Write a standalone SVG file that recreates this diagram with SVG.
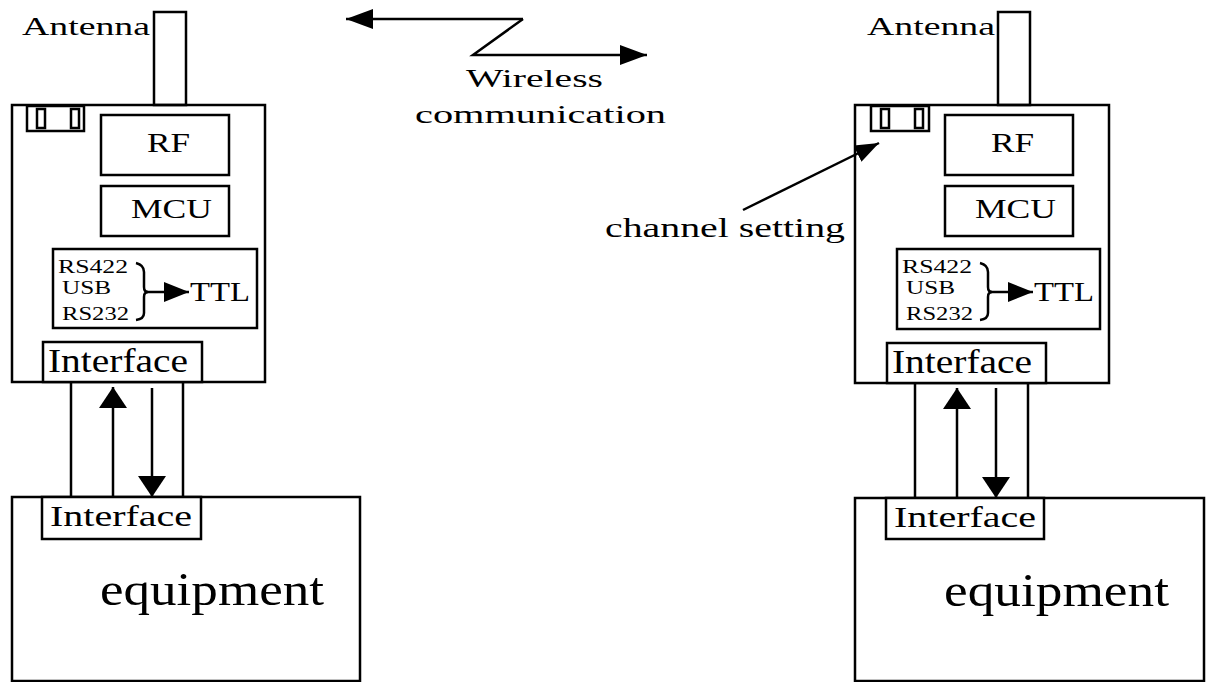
<svg xmlns="http://www.w3.org/2000/svg" width="1210" height="682" viewBox="0 0 1210 682">
<style>
.b{fill:none;stroke:#000;stroke-width:2.5}
.w{fill:#fff;stroke:#000;stroke-width:2.5}
.l{fill:none;stroke:#000;stroke-width:2.5}
.t{font-family:"Liberation Serif","Times New Roman",serif;fill:#000}
</style>
<defs>
<marker id="hBig" markerUnits="userSpaceOnUse" markerWidth="22" markerHeight="28" refX="21" refY="14" orient="auto"><path d="M0,0 L21,14 L0,28 z" fill="#000"/></marker>
<marker id="hW" markerUnits="userSpaceOnUse" markerWidth="28" markerHeight="20" refX="27" refY="10" orient="auto"><path d="M0,0 L27,10 L0,20 z" fill="#000"/></marker>
<marker id="hT" markerUnits="userSpaceOnUse" markerWidth="26" markerHeight="20" refX="25" refY="10" orient="auto"><path d="M0,0 L25,10 L0,20 z" fill="#000"/></marker>
<marker id="hC" markerUnits="userSpaceOnUse" markerWidth="25" markerHeight="18" refX="24" refY="9" orient="auto"><path d="M0,0 L24,9 L0,18 z" fill="#000"/></marker>
</defs>
<rect width="1210" height="682" fill="#fff"/>

<g id="module-left">
<text class="t" x="22" y="35" font-size="25" textLength="128" lengthAdjust="spacingAndGlyphs">Antenna</text>
<rect class="b" x="154" y="12" width="32" height="93"/>
<rect class="b" x="12" y="105" width="253" height="277"/>
<rect class="b" x="27" y="106" width="57" height="25"/>
<rect class="b" x="37" y="109" width="8" height="19"/>
<rect class="b" x="71" y="109" width="8" height="19"/>
<rect class="b" x="101" y="115" width="128" height="60"/>
<text class="t" x="147" y="152" font-size="28" textLength="43" lengthAdjust="spacingAndGlyphs">RF</text>
<rect class="b" x="101" y="186" width="128" height="50"/>
<text class="t" x="131" y="218" font-size="27" textLength="81" lengthAdjust="spacingAndGlyphs">MCU</text>
<rect class="b" x="53" y="249" width="204" height="79"/>
<text class="t" x="58" y="273" font-size="18" textLength="70" lengthAdjust="spacingAndGlyphs">RS422</text>
<text class="t" x="62" y="294" font-size="18" textLength="49" lengthAdjust="spacingAndGlyphs">USB</text>
<text class="t" x="62" y="320" font-size="18" textLength="67" lengthAdjust="spacingAndGlyphs">RS232</text>
<path class="l" d="M136,263 Q144,265 144,272 L144,287 Q144,292 148,292 Q144,292 144,297 L144,313 Q144,319 136,320"/>
<line class="l" x1="145" y1="292" x2="189" y2="292" marker-end="url(#hT)"/>
<text class="t" x="190" y="301" font-size="28" textLength="60" lengthAdjust="spacingAndGlyphs">TTL</text>
<rect class="w" x="43" y="342" width="159" height="40"/>
<text class="t" x="48" y="372" font-size="33" textLength="140" lengthAdjust="spacingAndGlyphs">Interface</text>
</g>

<g id="equipment-left">
<rect class="b" x="12" y="497" width="348" height="184"/>
<rect class="w" x="42" y="497" width="159" height="42"/>
<text class="t" x="50" y="526" font-size="30" textLength="142" lengthAdjust="spacingAndGlyphs">Interface</text>
<text class="t" x="100" y="605" font-size="46" textLength="224" lengthAdjust="spacingAndGlyphs">equipment</text>
</g>

<g id="module-right" transform="translate(844,0)">
<text class="t" x="23" y="35" font-size="25" textLength="128" lengthAdjust="spacingAndGlyphs">Antenna</text>
<rect class="b" x="154" y="12" width="32" height="93"/>
<rect class="b" x="11" y="105" width="254" height="278"/>
<rect class="b" x="27" y="106" width="58" height="25"/>
<rect class="b" x="37" y="109" width="8" height="19"/>
<rect class="b" x="71" y="109" width="8" height="19"/>
<rect class="b" x="101" y="115" width="128" height="60"/>
<text class="t" x="147" y="152" font-size="28" textLength="43" lengthAdjust="spacingAndGlyphs">RF</text>
<rect class="b" x="101" y="186" width="128" height="50"/>
<text class="t" x="131" y="218" font-size="27" textLength="81" lengthAdjust="spacingAndGlyphs">MCU</text>
<rect class="b" x="53" y="249" width="203" height="80"/>
<text class="t" x="58" y="273" font-size="18" textLength="70" lengthAdjust="spacingAndGlyphs">RS422</text>
<text class="t" x="62" y="294" font-size="18" textLength="49" lengthAdjust="spacingAndGlyphs">USB</text>
<text class="t" x="62" y="320" font-size="18" textLength="67" lengthAdjust="spacingAndGlyphs">RS232</text>
<path class="l" d="M136,263 Q144,265 144,272 L144,287 Q144,292 148,292 Q144,292 144,297 L144,313 Q144,319 136,320"/>
<line class="l" x1="145" y1="292" x2="189" y2="292" marker-end="url(#hT)"/>
<text class="t" x="190" y="301" font-size="28" textLength="60" lengthAdjust="spacingAndGlyphs">TTL</text>
<rect class="w" x="43" y="343" width="159" height="40"/>
<text class="t" x="48" y="373" font-size="33" textLength="140" lengthAdjust="spacingAndGlyphs">Interface</text>
</g>

<g id="equipment-right" transform="translate(844,0)">
<rect class="b" x="11" y="498" width="349" height="183"/>
<rect class="w" x="42" y="498" width="158" height="41"/>
<text class="t" x="50" y="527" font-size="30" textLength="142" lengthAdjust="spacingAndGlyphs">Interface</text>
<text class="t" x="100" y="606" font-size="46" textLength="225" lengthAdjust="spacingAndGlyphs">equipment</text>
</g>

<g id="wireless-label">
<text class="t" x="466" y="87" font-size="26" textLength="137" lengthAdjust="spacingAndGlyphs">Wireless</text>
<text class="t" x="415" y="123" font-size="26" textLength="251" lengthAdjust="spacingAndGlyphs">communication</text>
</g>

<g id="channel-label">
<text class="t" x="605" y="237" font-size="27" textLength="240" lengthAdjust="spacingAndGlyphs">channel setting</text>
</g>

<g id="connectors">
<line class="l" x1="71" y1="382" x2="71" y2="497"/>
<line class="l" x1="183" y1="382" x2="183" y2="497"/>
<line class="l" x1="113" y1="497" x2="113" y2="387" marker-end="url(#hBig)"/>
<line class="l" x1="152" y1="388" x2="152" y2="497" marker-end="url(#hBig)"/>
<line class="l" x1="915" y1="383" x2="915" y2="498"/>
<line class="l" x1="1028" y1="383" x2="1028" y2="498"/>
<line class="l" x1="957" y1="498" x2="957" y2="388" marker-end="url(#hBig)"/>
<line class="l" x1="996" y1="388" x2="996" y2="498" marker-end="url(#hBig)"/>
<polyline class="l" points="523,19 473,55 622,55"/>
<line class="l" x1="523" y1="19" x2="346" y2="19" marker-end="url(#hW)"/>
<line class="l" x1="622" y1="55" x2="647" y2="55" marker-end="url(#hW)"/>
<line class="l" x1="743" y1="210" x2="879" y2="143" marker-end="url(#hC)"/>
</g>
</svg>
